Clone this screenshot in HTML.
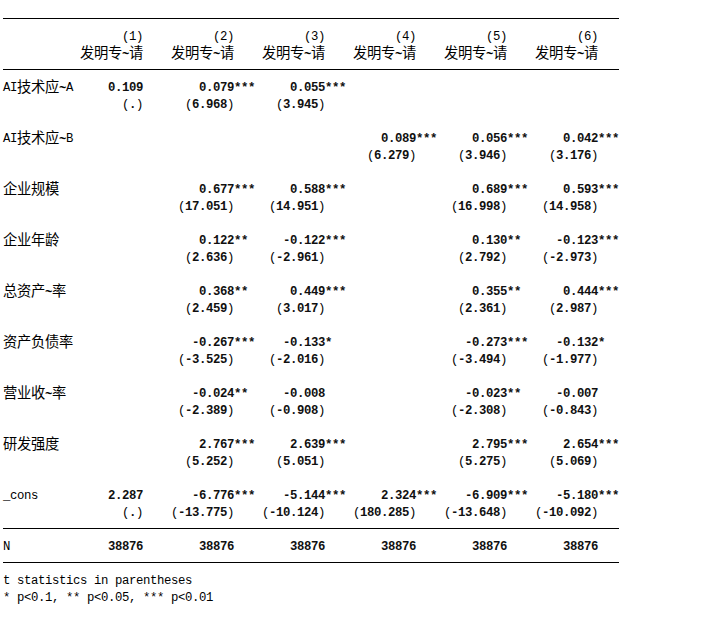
<!DOCTYPE html>
<html lang="zh"><head><meta charset="utf-8"><title>esttab</title>
<style>
html,body{margin:0;padding:0;background:#fff;}
body{width:714px;height:630px;position:relative;overflow:hidden;font-family:"Liberation Mono",monospace;}
#t{position:absolute;left:3px;top:12px;width:700px;margin:0;font-family:"Liberation Mono",monospace;font-size:12.3px;line-height:17px;color:#000;}
#t div{height:17px;overflow:visible;}
#t s,#t u,#t i{display:inline-block;width:7px;height:17px;text-decoration:none;font-style:normal;vertical-align:top;white-space:pre;}
#t b{font-weight:bold;color:#101010;}
#t i{font-weight:bold;position:relative;top:1px;}
.h{position:absolute;left:3px;width:616px;height:1px;background:#000;}
#c{position:absolute;left:0;top:0;width:714px;height:630px;}
#c text{font-family:"Liberation Sans","Noto Sans CJK SC",sans-serif;font-size:14.3px;fill:#000;}
</style></head><body>
<div class="h" style="top:18px"></div>
<div class="h" style="top:69px"></div>
<div class="h" style="top:528px"></div>
<div class="h" style="top:562px"></div>
<div id="t"><div></div>
<div><u style="width:119px">                 </u><s>(</s><s>1</s><s>)</s><u style="width:70px">          </u><s>(</s><s>2</s><s>)</s><u style="width:70px">          </u><s>(</s><s>3</s><s>)</s><u style="width:70px">          </u><s>(</s><s>4</s><s>)</s><u style="width:70px">          </u><s>(</s><s>5</s><s>)</s><u style="width:70px">          </u><s>(</s><s>6</s><s>)</s></div>
<div><u style="width:119px">                 </u><i>~</i><u style="width:84px">            </u><i>~</i><u style="width:84px">            </u><i>~</i><u style="width:84px">            </u><i>~</i><u style="width:84px">            </u><i>~</i><u style="width:84px">            </u><i>~</i></div>
<div></div>
<div><s>A</s><s>I</s><u style="width:42px">      </u><i>~</i><s>A</s><u style="width:35px">     </u><b><s>0</s><s>.</s><s>1</s><s>0</s><s>9</s></b><u style="width:56px">        </u><b><s>0</s><s>.</s><s>0</s><s>7</s><s>9</s><s>*</s><s>*</s><s>*</s></b><u style="width:35px">     </u><b><s>0</s><s>.</s><s>0</s><s>5</s><s>5</s><s>*</s><s>*</s><s>*</s></b></div>
<div><u style="width:119px">                 </u><s>(</s><b><s>.</s></b><s>)</s><u style="width:42px">      </u><s>(</s><b><s>6</s><s>.</s><s>9</s><s>6</s><s>8</s></b><s>)</s><u style="width:42px">      </u><s>(</s><b><s>3</s><s>.</s><s>9</s><s>4</s><s>5</s></b><s>)</s></div>
<div></div>
<div><s>A</s><s>I</s><u style="width:42px">      </u><i>~</i><s>B</s><u style="width:308px">                                            </u><b><s>0</s><s>.</s><s>0</s><s>8</s><s>9</s><s>*</s><s>*</s><s>*</s></b><u style="width:35px">     </u><b><s>0</s><s>.</s><s>0</s><s>5</s><s>6</s><s>*</s><s>*</s><s>*</s></b><u style="width:35px">     </u><b><s>0</s><s>.</s><s>0</s><s>4</s><s>2</s><s>*</s><s>*</s><s>*</s></b></div>
<div><u style="width:364px">                                                    </u><s>(</s><b><s>6</s><s>.</s><s>2</s><s>7</s><s>9</s></b><s>)</s><u style="width:42px">      </u><s>(</s><b><s>3</s><s>.</s><s>9</s><s>4</s><s>6</s></b><s>)</s><u style="width:42px">      </u><s>(</s><b><s>3</s><s>.</s><s>1</s><s>7</s><s>6</s></b><s>)</s></div>
<div></div>
<div><u style="width:196px">                            </u><b><s>0</s><s>.</s><s>6</s><s>7</s><s>7</s><s>*</s><s>*</s><s>*</s></b><u style="width:35px">     </u><b><s>0</s><s>.</s><s>5</s><s>8</s><s>8</s><s>*</s><s>*</s><s>*</s></b><u style="width:126px">                  </u><b><s>0</s><s>.</s><s>6</s><s>8</s><s>9</s><s>*</s><s>*</s><s>*</s></b><u style="width:35px">     </u><b><s>0</s><s>.</s><s>5</s><s>9</s><s>3</s><s>*</s><s>*</s><s>*</s></b></div>
<div><u style="width:175px">                         </u><s>(</s><b><s>1</s><s>7</s><s>.</s><s>0</s><s>5</s><s>1</s></b><s>)</s><u style="width:35px">     </u><s>(</s><b><s>1</s><s>4</s><s>.</s><s>9</s><s>5</s><s>1</s></b><s>)</s><u style="width:126px">                  </u><s>(</s><b><s>1</s><s>6</s><s>.</s><s>9</s><s>9</s><s>8</s></b><s>)</s><u style="width:35px">     </u><s>(</s><b><s>1</s><s>4</s><s>.</s><s>9</s><s>5</s><s>8</s></b><s>)</s></div>
<div></div>
<div><u style="width:196px">                            </u><b><s>0</s><s>.</s><s>1</s><s>2</s><s>2</s><s>*</s><s>*</s></b><u style="width:35px">     </u><b><s>-</s><s>0</s><s>.</s><s>1</s><s>2</s><s>2</s><s>*</s><s>*</s><s>*</s></b><u style="width:126px">                  </u><b><s>0</s><s>.</s><s>1</s><s>3</s><s>0</s><s>*</s><s>*</s></b><u style="width:35px">     </u><b><s>-</s><s>0</s><s>.</s><s>1</s><s>2</s><s>3</s><s>*</s><s>*</s><s>*</s></b></div>
<div><u style="width:182px">                          </u><s>(</s><b><s>2</s><s>.</s><s>6</s><s>3</s><s>6</s></b><s>)</s><u style="width:35px">     </u><s>(</s><b><s>-</s><s>2</s><s>.</s><s>9</s><s>6</s><s>1</s></b><s>)</s><u style="width:133px">                   </u><s>(</s><b><s>2</s><s>.</s><s>7</s><s>9</s><s>2</s></b><s>)</s><u style="width:35px">     </u><s>(</s><b><s>-</s><s>2</s><s>.</s><s>9</s><s>7</s><s>3</s></b><s>)</s></div>
<div></div>
<div><u style="width:42px">      </u><i>~</i><u style="width:147px">                     </u><b><s>0</s><s>.</s><s>3</s><s>6</s><s>8</s><s>*</s><s>*</s></b><u style="width:42px">      </u><b><s>0</s><s>.</s><s>4</s><s>4</s><s>9</s><s>*</s><s>*</s><s>*</s></b><u style="width:126px">                  </u><b><s>0</s><s>.</s><s>3</s><s>5</s><s>5</s><s>*</s><s>*</s></b><u style="width:42px">      </u><b><s>0</s><s>.</s><s>4</s><s>4</s><s>4</s><s>*</s><s>*</s><s>*</s></b></div>
<div><u style="width:182px">                          </u><s>(</s><b><s>2</s><s>.</s><s>4</s><s>5</s><s>9</s></b><s>)</s><u style="width:42px">      </u><s>(</s><b><s>3</s><s>.</s><s>0</s><s>1</s><s>7</s></b><s>)</s><u style="width:133px">                   </u><s>(</s><b><s>2</s><s>.</s><s>3</s><s>6</s><s>1</s></b><s>)</s><u style="width:42px">      </u><s>(</s><b><s>2</s><s>.</s><s>9</s><s>8</s><s>7</s></b><s>)</s></div>
<div></div>
<div><u style="width:189px">                           </u><b><s>-</s><s>0</s><s>.</s><s>2</s><s>6</s><s>7</s><s>*</s><s>*</s><s>*</s></b><u style="width:28px">    </u><b><s>-</s><s>0</s><s>.</s><s>1</s><s>3</s><s>3</s><s>*</s></b><u style="width:133px">                   </u><b><s>-</s><s>0</s><s>.</s><s>2</s><s>7</s><s>3</s><s>*</s><s>*</s><s>*</s></b><u style="width:28px">    </u><b><s>-</s><s>0</s><s>.</s><s>1</s><s>3</s><s>2</s><s>*</s></b></div>
<div><u style="width:175px">                         </u><s>(</s><b><s>-</s><s>3</s><s>.</s><s>5</s><s>2</s><s>5</s></b><s>)</s><u style="width:35px">     </u><s>(</s><b><s>-</s><s>2</s><s>.</s><s>0</s><s>1</s><s>6</s></b><s>)</s><u style="width:126px">                  </u><s>(</s><b><s>-</s><s>3</s><s>.</s><s>4</s><s>9</s><s>4</s></b><s>)</s><u style="width:35px">     </u><s>(</s><b><s>-</s><s>1</s><s>.</s><s>9</s><s>7</s><s>7</s></b><s>)</s></div>
<div></div>
<div><u style="width:42px">      </u><i>~</i><u style="width:140px">                    </u><b><s>-</s><s>0</s><s>.</s><s>0</s><s>2</s><s>4</s><s>*</s><s>*</s></b><u style="width:35px">     </u><b><s>-</s><s>0</s><s>.</s><s>0</s><s>0</s><s>8</s></b><u style="width:140px">                    </u><b><s>-</s><s>0</s><s>.</s><s>0</s><s>2</s><s>3</s><s>*</s><s>*</s></b><u style="width:35px">     </u><b><s>-</s><s>0</s><s>.</s><s>0</s><s>0</s><s>7</s></b></div>
<div><u style="width:175px">                         </u><s>(</s><b><s>-</s><s>2</s><s>.</s><s>3</s><s>8</s><s>9</s></b><s>)</s><u style="width:35px">     </u><s>(</s><b><s>-</s><s>0</s><s>.</s><s>9</s><s>0</s><s>8</s></b><s>)</s><u style="width:126px">                  </u><s>(</s><b><s>-</s><s>2</s><s>.</s><s>3</s><s>0</s><s>8</s></b><s>)</s><u style="width:35px">     </u><s>(</s><b><s>-</s><s>0</s><s>.</s><s>8</s><s>4</s><s>3</s></b><s>)</s></div>
<div></div>
<div><u style="width:196px">                            </u><b><s>2</s><s>.</s><s>7</s><s>6</s><s>7</s><s>*</s><s>*</s><s>*</s></b><u style="width:35px">     </u><b><s>2</s><s>.</s><s>6</s><s>3</s><s>9</s><s>*</s><s>*</s><s>*</s></b><u style="width:126px">                  </u><b><s>2</s><s>.</s><s>7</s><s>9</s><s>5</s><s>*</s><s>*</s><s>*</s></b><u style="width:35px">     </u><b><s>2</s><s>.</s><s>6</s><s>5</s><s>4</s><s>*</s><s>*</s><s>*</s></b></div>
<div><u style="width:182px">                          </u><s>(</s><b><s>5</s><s>.</s><s>2</s><s>5</s><s>2</s></b><s>)</s><u style="width:42px">      </u><s>(</s><b><s>5</s><s>.</s><s>0</s><s>5</s><s>1</s></b><s>)</s><u style="width:133px">                   </u><s>(</s><b><s>5</s><s>.</s><s>2</s><s>7</s><s>5</s></b><s>)</s><u style="width:42px">      </u><s>(</s><b><s>5</s><s>.</s><s>0</s><s>6</s><s>9</s></b><s>)</s></div>
<div></div>
<div><s>_</s><s>c</s><s>o</s><s>n</s><s>s</s><u style="width:70px">          </u><b><s>2</s><s>.</s><s>2</s><s>8</s><s>7</s></b><u style="width:49px">       </u><b><s>-</s><s>6</s><s>.</s><s>7</s><s>7</s><s>6</s><s>*</s><s>*</s><s>*</s></b><u style="width:28px">    </u><b><s>-</s><s>5</s><s>.</s><s>1</s><s>4</s><s>4</s><s>*</s><s>*</s><s>*</s></b><u style="width:35px">     </u><b><s>2</s><s>.</s><s>3</s><s>2</s><s>4</s><s>*</s><s>*</s><s>*</s></b><u style="width:28px">    </u><b><s>-</s><s>6</s><s>.</s><s>9</s><s>0</s><s>9</s><s>*</s><s>*</s><s>*</s></b><u style="width:28px">    </u><b><s>-</s><s>5</s><s>.</s><s>1</s><s>8</s><s>0</s><s>*</s><s>*</s><s>*</s></b></div>
<div><u style="width:119px">                 </u><s>(</s><b><s>.</s></b><s>)</s><u style="width:28px">    </u><s>(</s><b><s>-</s><s>1</s><s>3</s><s>.</s><s>7</s><s>7</s><s>5</s></b><s>)</s><u style="width:28px">    </u><s>(</s><b><s>-</s><s>1</s><s>0</s><s>.</s><s>1</s><s>2</s><s>4</s></b><s>)</s><u style="width:28px">    </u><s>(</s><b><s>1</s><s>8</s><s>0</s><s>.</s><s>2</s><s>8</s><s>5</s></b><s>)</s><u style="width:28px">    </u><s>(</s><b><s>-</s><s>1</s><s>3</s><s>.</s><s>6</s><s>4</s><s>8</s></b><s>)</s><u style="width:28px">    </u><s>(</s><b><s>-</s><s>1</s><s>0</s><s>.</s><s>0</s><s>9</s><s>2</s></b><s>)</s></div>
<div></div>
<div><s>N</s><u style="width:98px">              </u><b><s>3</s><s>8</s><s>8</s><s>7</s><s>6</s></b><u style="width:56px">        </u><b><s>3</s><s>8</s><s>8</s><s>7</s><s>6</s></b><u style="width:56px">        </u><b><s>3</s><s>8</s><s>8</s><s>7</s><s>6</s></b><u style="width:56px">        </u><b><s>3</s><s>8</s><s>8</s><s>7</s><s>6</s></b><u style="width:56px">        </u><b><s>3</s><s>8</s><s>8</s><s>7</s><s>6</s></b><u style="width:56px">        </u><b><s>3</s><s>8</s><s>8</s><s>7</s><s>6</s></b></div>
<div></div>
<div><s>t</s><u style="width:7px"> </u><s>s</s><s>t</s><s>a</s><s>t</s><s>i</s><s>s</s><s>t</s><s>i</s><s>c</s><s>s</s><u style="width:7px"> </u><s>i</s><s>n</s><u style="width:7px"> </u><s>p</s><s>a</s><s>r</s><s>e</s><s>n</s><s>t</s><s>h</s><s>e</s><s>s</s><s>e</s><s>s</s></div>
<div><s>*</s><u style="width:7px"> </u><s>p</s><s>&lt;</s><s>0</s><s>.</s><s>1</s><s>,</s><u style="width:7px"> </u><s>*</s><s>*</s><u style="width:7px"> </u><s>p</s><s>&lt;</s><s>0</s><s>.</s><s>0</s><s>5</s><s>,</s><u style="width:7px"> </u><s>*</s><s>*</s><s>*</s><u style="width:7px"> </u><s>p</s><s>&lt;</s><s>0</s><s>.</s><s>0</s><s>1</s></div></div>
<svg id="c" viewBox="0 0 714 630" width="714" height="630" fill="#000">
<g><text x="80 94 108 129" y="58.2">发明专请</text></g>
<g><text x="171 185 199 220" y="58.2">发明专请</text></g>
<g><text x="262 276 290 311" y="58.2">发明专请</text></g>
<g><text x="353 367 381 402" y="58.2">发明专请</text></g>
<g><text x="444 458 472 493" y="58.2">发明专请</text></g>
<g><text x="535 549 563 584" y="58.2">发明专请</text></g>
<g><text x="17 31 45" y="92.2">技术应</text></g>
<g><text x="17 31 45" y="143.2">技术应</text></g>
<g><text x="3 17 31 45" y="194.2">企业规模</text></g>
<g><text x="3 17 31 45" y="245.2">企业年龄</text></g>
<g><text x="3 17 31 52" y="296.2">总资产率</text></g>
<g><text x="3 17 31 45 59" y="347.2">资产负债率</text></g>
<g><text x="3 17 31 52" y="398.2">营业收率</text></g>
<g><text x="3 17 31 45" y="449.2">研发强度</text></g>
</svg>
</body></html>
